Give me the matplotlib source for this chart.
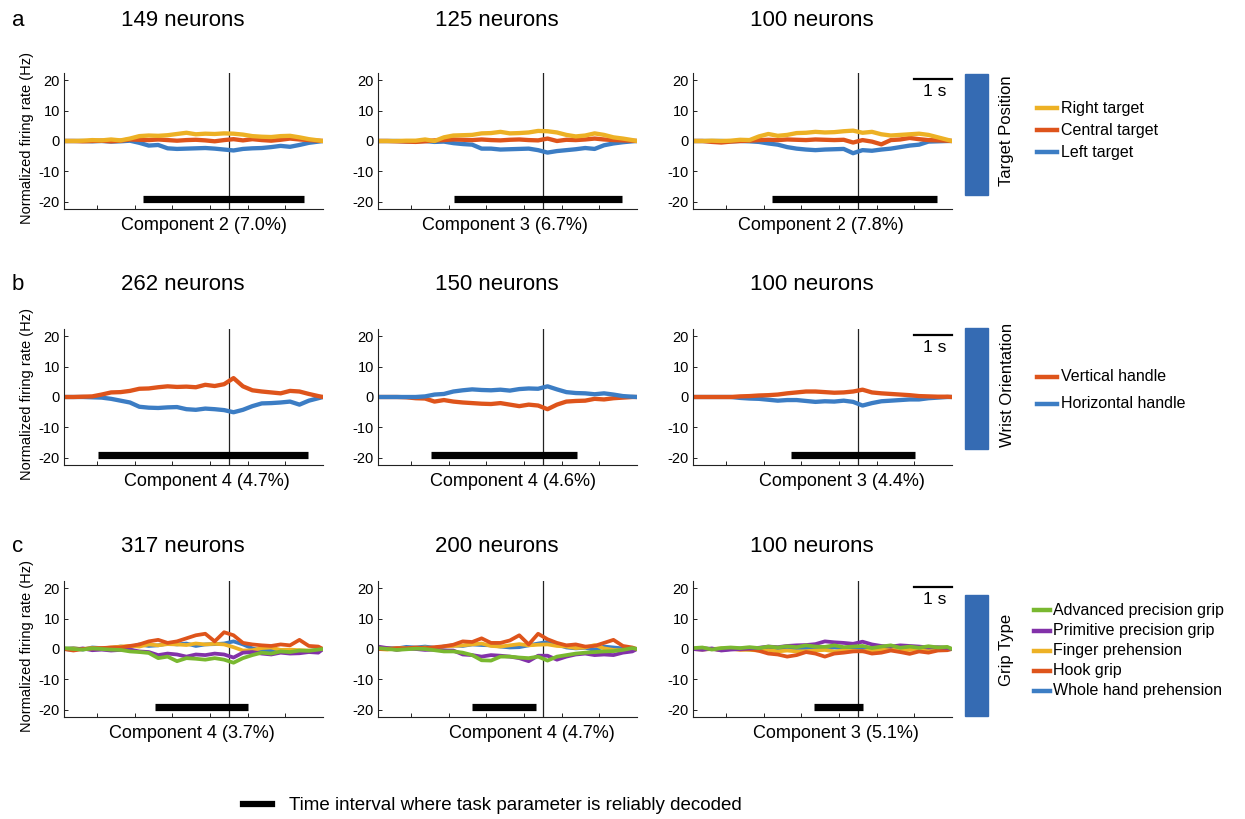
import matplotlib
matplotlib.use("Agg")
import matplotlib.pyplot as plt
from matplotlib.patches import Rectangle
from matplotlib.lines import Line2D

plt.rcParams['font.family'] = ['Liberation Sans', 'DejaVu Sans']
plt.rcParams['axes.unicode_minus'] = False

# time axis (s), shared by all traces
t = [0.125, 0.375, 0.625, 0.875, 1.125, 1.375, 1.625, 1.875, 2.125, 2.375,
     2.625, 2.875, 3.125, 3.375, 3.625, 3.875, 4.125, 4.375, 4.625, 4.875,
     5.125, 5.375, 5.625, 5.875, 6.125, 6.375, 6.625, 6.875, 7.0]

# ---- row a : target position
a1_right = [0, 0, 0.1, 0.3, 0.2, 0.5, 0.2, 0.8, 1.6, 1.8, 1.7, 1.9, 2.3, 2.7, 2.2, 2.4, 2.3, 2.5, 2.4, 2.1, 1.6, 1.4, 1.3, 1.6, 1.7, 1.2, 0.6, 0.2, 0]
a1_central = [0, 0, -0.1, 0, 0.1, -0.1, 0.1, 0.5, 0.4, 0.3, 0.5, 0.3, 0.1, 0.3, 0.4, 0.2, -0.1, 0.3, 0.6, 0.2, 0.6, 0.3, 0.1, 0.4, 0.8, 0.5, 0.3, 0.1, 0]
a1_left = [0, 0, 0, -0.1, 0, -0.2, -0.1, 0.1, -0.6, -1.5, -1.3, -2.4, -2.6, -2.5, -2.4, -2.3, -2.5, -2.8, -3.1, -2.6, -2.4, -2.3, -2.0, -1.6, -1.9, -1.3, -0.6, -0.2, 0]

a2_right = [0, 0, 0, 0.1, 0.1, 0.5, 0, 1.2, 1.8, 1.9, 2.0, 2.5, 2.6, 3.0, 2.5, 2.6, 2.8, 3.3, 3.2, 2.8, 2.0, 1.5, 1.8, 2.5, 2.0, 1.2, 0.8, 0.3, 0]
a2_central = [0, 0, -0.1, -0.2, -0.3, -0.1, 0.2, 0.3, 0.5, 0.4, 0.3, 0.5, 0.3, 0.2, 0.4, 0.5, 0.3, 0.2, 0.8, 0, 0.4, 0.3, 0.5, 0.8, 0.5, 0.3, 0.2, 0.1, 0]
a2_left = [0, 0, 0, -0.1, -0.1, 0, -0.3, -0.2, -0.7, -1.0, -1.2, -2.5, -2.5, -2.8, -2.7, -2.6, -2.5, -3.0, -3.8, -3.3, -3.0, -2.7, -2.3, -2.6, -1.4, -0.8, -0.4, -0.1, 0]

a3_right = [0, 0, 0.1, 0, 0.1, 0.4, 0.3, 1.5, 2.3, 1.7, 2.0, 2.6, 2.7, 3.0, 2.8, 2.9, 3.2, 3.4, 2.7, 3.0, 2.2, 1.8, 2.0, 2.2, 2.4, 2.0, 1.2, 0.4, 0]
a3_central = [0, 0, -0.3, -0.5, -0.2, 0, 0.1, 0.3, 0.4, 0.3, 0.5, 0.4, 0.3, 0.5, 0.4, 0.3, 0.4, -0.5, 0.3, -0.2, -1.1, 0.3, 0.5, 1.0, 0.6, 0.3, 0.2, 0.1, 0]
a3_left = [0, 0, 0, 0, -0.1, 0, -0.1, -0.3, -0.8, -1.2, -2.0, -2.5, -2.8, -3.0, -2.8, -2.7, -2.6, -4.0, -3.0, -3.2, -2.8, -2.5, -2.0, -1.5, -1.2, -0.2, -0.1, 0, 0]

# ---- row b : wrist orientation
b1_vert = [0, 0, 0.1, 0.2, 0.8, 1.5, 1.6, 2.0, 2.7, 2.8, 3.2, 3.5, 3.3, 3.4, 3.2, 4.0, 3.6, 4.2, 6.2, 3.5, 2.2, 1.8, 1.5, 1.2, 2.0, 1.8, 1.0, 0.3, 0]
b1_horiz = [0, 0, 0, -0.1, -0.2, -0.6, -1.2, -1.8, -3.2, -3.5, -3.6, -3.4, -3.3, -4.0, -4.2, -3.8, -4.0, -4.3, -5.0, -4.2, -3.0, -2.1, -2.0, -1.8, -1.5, -2.5, -1.2, -0.4, 0]

b2_vert = [0, 0, 0, -0.1, -0.4, -0.5, -1.5, -1.0, -1.5, -1.8, -2.0, -2.2, -2.3, -2.0, -2.5, -3.0, -2.5, -2.8, -4.0, -2.5, -1.5, -1.3, -1.2, -0.6, -0.8, -0.4, -0.2, 0, 0]
b2_horiz = [0, 0, 0, 0, 0, 0.2, 0.8, 1.0, 1.8, 2.2, 2.5, 2.3, 2.2, 2.4, 2.1, 2.6, 2.8, 2.7, 3.5, 2.5, 1.6, 1.3, 1.2, 0.9, 1.2, 0.8, 0.3, 0.1, 0]

b3_vert = [0, 0, 0, 0, 0, 0.2, 0.3, 0.5, 0.6, 0.8, 1.2, 1.5, 1.8, 1.8, 1.6, 1.4, 1.5, 1.8, 2.4, 1.5, 1.2, 1.0, 0.8, 0.6, 0.3, 0.2, 0.1, 0.1, 0]
b3_horiz = [0, 0, 0, 0, 0, -0.3, -0.5, -0.6, -0.9, -1.2, -1.0, -1.0, -1.3, -1.6, -1.4, -1.5, -1.2, -1.6, -2.8, -2.0, -1.4, -1.2, -1.0, -0.8, -0.8, -0.4, -0.2, 0, 0]

# ---- row c : grip type
c1_adv = [0.3, 0, -0.2, 0.2, 0, -0.2, -0.3, -0.8, -1.0, -1.3, -3.0, -2.5, -4.0, -3.0, -3.2, -3.5, -3.0, -3.5, -4.5, -3.0, -2.0, -1.2, -1.5, -0.8, -1.0, -0.5, -0.6, -0.2, 0]
c1_prim = [0, -0.3, 0.2, -0.4, -0.2, -0.5, -0.3, -0.2, -0.8, -1.0, -2.0, -1.5, -1.8, -2.5, -1.8, -2.0, -1.5, -1.8, -2.8, -1.2, -1.0, -1.5, -1.8, -1.2, -1.5, -1.4, -1.0, -1.2, 0]
c1_finger = [0, 0.2, 0, 0.3, 0.2, 0.5, 0.8, 1.0, 0.8, 1.5, 1.2, 1.6, 1.5, 1.3, 1.8, 1.5, 1.7, 1.5, 0.6, -0.5, -0.4, 0.3, 0.5, -0.3, -0.2, -0.4, -0.5, -0.7, 0]
c1_hook = [0, -0.5, 0, 0.2, 0.3, 0.5, 0.5, 1.0, 1.5, 2.5, 3.0, 2.0, 2.5, 3.5, 4.5, 5.0, 2.5, 5.5, 4.5, 2.0, 1.5, 1.2, 1.0, 1.5, 1.2, 3.0, 1.0, 0.8, 0]
c1_whole = [0, 0.3, -0.2, 0.5, 0.3, 0.3, 0.8, 0.5, 1.5, 1.0, 1.2, 1.8, 1.5, 1.8, 1.0, 1.5, 1.6, 1.8, 2.5, 1.5, 0.2, -0.5, -0.5, -1.0, -0.8, -1.0, -0.6, -0.3, 0]

c2_adv = [0.3, 0, -0.3, -0.1, 0.1, 0, -0.4, -0.8, -0.8, -1.2, -2.0, -3.7, -3.8, -2.5, -2.5, -2.8, -3.0, -2.5, -3.8, -2.5, -2.0, -1.5, -1.2, -1.0, -0.8, -0.7, -0.3, 0.3, 0]
c2_prim = [0.8, 0.3, -0.3, 0.2, 0, -0.3, -0.2, -0.5, -0.5, -1.8, -2.0, -2.5, -2.0, -2.2, -2.5, -3.0, -4.0, -2.2, -2.2, -3.5, -2.5, -1.8, -1.5, -2.0, -1.8, -2.0, -1.2, -0.8, 0]
c2_finger = [0, -0.2, 0.2, 0.3, 0.2, 0.5, 0.2, 0.8, 1.0, 1.2, 1.5, 1.8, 1.0, 0.8, 1.2, 1.6, 1.2, 1.4, 1.5, 1.0, 0.8, 0.3, 0.5, 1.3, 0.2, -0.3, -0.5, -0.3, 0]
c2_hook = [0, 0.1, 0.3, 0.2, 0.5, 0.3, 0.6, 0.9, 1.4, 2.5, 2.3, 3.5, 2.0, 2.0, 2.8, 4.5, 1.5, 5.0, 3.2, 2.0, 1.2, 1.5, 0.8, 1.0, 2.0, 3.0, 1.0, 0.5, 0]
c2_whole = [0, 0.3, 0.2, 0.7, 0.5, 0.8, 0.4, 0.8, 1.2, 1.0, 1.5, 1.3, 1.2, 0.8, 0.5, 0.6, 1.2, 1.8, 2.3, 1.5, 0.5, 0.2, 0.4, -0.3, 0.8, 0.5, 0.2, -0.2, 0]

c3_adv = [0.3, 0.5, -0.2, 0.3, 0.5, 0.3, 0.6, 0.3, 0.8, 0.5, 0.9, 0.6, 1.2, 0.8, 0.7, 1.2, 0.6, 0.8, 1.0, 0.3, 0.8, 1.2, 0.4, 0.8, 0.4, 0.9, 0.5, 0.7, 0]
c3_prim = [0, -0.3, 0.2, -0.5, -0.2, 0, 0.2, 0.4, 0.8, 0.6, 1.0, 1.2, 1.3, 1.6, 2.5, 2.2, 2.0, 1.7, 2.4, 1.5, 1.0, 0.8, 1.2, 1.0, 0.8, 0.5, 0.6, 0.4, 0]
c3_finger = [0, -0.2, 0, 0.2, 0, -0.2, -0.3, -0.5, -0.3, -0.8, -0.5, -0.8, -0.7, -0.5, -0.3, -0.8, -0.5, -0.6, -0.8, -0.4, -0.3, -0.2, -0.5, -0.3, 0, -0.2, 0.1, 0, 0]
c3_hook = [0, 0.2, 0, -0.3, 0.1, -0.2, 0, -0.6, -1.5, -1.8, -2.5, -2.0, -1.0, -1.5, -2.5, -1.5, -1.2, -0.8, -0.7, -1.5, -1.2, -0.5, -1.0, -1.6, -0.8, -1.2, -0.5, -0.4, 0]
c3_whole = [0, 0.3, 0, -0.3, 0, 0.2, -0.2, -0.3, 0, 0.2, 0.3, 0.1, 0.3, 0.4, 0.2, 0.5, 0.3, 0.4, 0.2, 0.5, 0.3, 0.2, 0.4, 0.1, 0.3, 0.2, 0.1, 0, 0]

# decoding intervals (s) per panel, row by row
decoded = [[(2.22, 6.49), (2.13, 6.60), (2.23, 6.60)],
           [(1.02, 6.61), (1.53, 5.42), (2.72, 6.03)],
           [(2.54, 5.02), (2.63, 4.32), (3.33, 4.63)]]

neurons = [["149 neurons", "125 neurons", "100 neurons"],
           ["262 neurons", "150 neurons", "100 neurons"],
           ["317 neurons", "200 neurons", "100 neurons"]]
components = [["Component 2 (7.0%)", "Component 3 (6.7%)", "Component 2 (7.8%)"],
              ["Component 4 (4.7%)", "Component 4 (4.6%)", "Component 3 (4.4%)"],
              ["Component 4 (3.7%)", "Component 4 (4.7%)", "Component 3 (5.1%)"]]
row_letters = ["a", "b", "c"]
row_names = ["Target Position", "Wrist Orientation", "Grip Type"]

YEL = '#EDB125'
ORA = '#DE541B'
BLU = '#3C7DC4'
PUR = '#8231A9'
GRN = '#79B830'
BAR_BLUE = '#356BB3'

a_labels = ["Right target", "Central target", "Left target"]
a_colors = [YEL, ORA, BLU]
b_labels = ["Vertical handle", "Horizontal handle"]
b_colors = [ORA, BLU]
c_labels = ["Advanced precision grip", "Primitive precision grip",
            "Finger prehension", "Hook grip", "Whole hand prehension"]
c_colors = [GRN, PUR, YEL, ORA, BLU]

# series per panel, drawn in the listed order
panels = [
    [[(a1_left, BLU), (a1_central, ORA), (a1_right, YEL)],
     [(a2_left, BLU), (a2_central, ORA), (a2_right, YEL)],
     [(a3_left, BLU), (a3_central, ORA), (a3_right, YEL)]],
    [[(b1_horiz, BLU), (b1_vert, ORA)],
     [(b2_vert, ORA), (b2_horiz, BLU)],
     [(b3_horiz, BLU), (b3_vert, ORA)]],
    [[(c1_whole, BLU), (c1_finger, YEL), (c1_prim, PUR), (c1_hook, ORA), (c1_adv, GRN)],
     [(c2_whole, BLU), (c2_finger, YEL), (c2_prim, PUR), (c2_hook, ORA), (c2_adv, GRN)],
     [(c3_whole, BLU), (c3_finger, YEL), (c3_hook, ORA), (c3_prim, PUR), (c3_adv, GRN)]],
]

W, H = 1245, 819
fig = plt.figure(figsize=(W / 100, H / 100), dpi=100)

def fx(x):
    return x / W

def fy(y):
    return 1 - y / H

col_left = [64, 378, 693]
row_top = [73, 329, 581]
ax_w, ax_h = 259, 136
title_x = [183, 497, 812]
title_y = [20, 285, 547]
xlab_x = [[204, 505, 821], [207, 513, 842], [192, 532, 836]]
lw_rows = [3.1, 3.1, 2.7]

for r in range(3):
    for c in range(3):
        ax = fig.add_axes([fx(col_left[c]), fy(row_top[r] + ax_h), fx(ax_w), ax_h / H])
        ax.axvline(4.5, color='#222222', lw=0.9, zorder=1)
        for ys, col in panels[r][c]:
            ax.plot(t, ys, color=col, lw=lw_rows[r], solid_capstyle='round', zorder=2)
        x0, x1 = decoded[r][c]
        ax.plot([x0, x1], [-19, -19], color='black', lw=5.2, solid_capstyle='butt', zorder=3)
        ax.set_xlim(0.125, 7.0)
        ax.set_ylim(-22.3, 22.3)
        ax.set_xticks([1, 2, 3, 4, 5, 6])
        ax.set_xticklabels([])
        ax.set_yticks([-20, -10, 0, 10, 20])
        ax.tick_params(direction='in', length=3, width=0.7, labelsize=10.5, pad=3, colors='#222222')
        ax.tick_params(axis='y', labelcolor='black')
        for s in ['top', 'right']:
            ax.spines[s].set_visible(False)
        for s in ['left', 'bottom']:
            ax.spines[s].set_linewidth(0.8)
            ax.spines[s].set_color('#222222')
        if c == 2:
            ax.plot([6.0, 7.0], [20.2, 20.2], color='black', lw=1.6, clip_on=False)
            ax.text(6.55, 16.2, "1 s", ha='center', va='center', fontsize=12.5, clip_on=False)
        fig.text(fx(xlab_x[r][c]), fy(row_top[r] + ax_h + 17), components[r][c],
                 ha='center', va='center', fontsize=13)
        fig.text(fx(title_x[c]), fy(title_y[r]), neurons[r][c],
                 ha='center', va='center', fontsize=16)
    fig.text(fx(18), fy(title_y[r]), row_letters[r], ha='center', va='center', fontsize=16)
    fig.text(fx(27), fy(row_top[r] + ax_h / 2 - 3), "Normalized firing rate (Hz)",
             rotation=90, ha='center', va='center', fontsize=10.5)

# coloured side bars with task parameter names
side_spans = [(74, 195), (328, 449), (595, 716)]
side_name_y = [131, 385, 650]
for r in range(3):
    y0, y1 = side_spans[r]
    fig.patches.append(Rectangle((fx(965), fy(y1)), fx(23), (y1 - y0) / H,
                                 transform=fig.transFigure, color=BAR_BLUE))
    fig.text(fx(1007), fy(side_name_y[r]), row_names[r], rotation=90,
             ha='center', va='center', fontsize=12)

def legend_rows(labels, colors, ys, x0, x1, xt):
    for lab, col, y in zip(labels, colors, ys):
        fig.lines.append(Line2D([fx(x0), fx(x1)], [fy(y), fy(y)], color=col, lw=3.2,
                                transform=fig.transFigure))
        fig.text(fx(xt), fy(y), lab, ha='left', va='center', fontsize=11.5)

legend_rows(a_labels, a_colors, [108, 130, 152], 1037, 1057, 1061)
legend_rows(b_labels, b_colors, [377, 404], 1037, 1057, 1061)
legend_rows(c_labels, c_colors, [610, 630.5, 650.5, 670.5, 691], 1034, 1050, 1053)

# bottom key
fig.lines.append(Line2D([fx(243), fx(272)], [fy(804), fy(804)], color='black', lw=4.5,
                        transform=fig.transFigure))
fig.text(fx(289), fy(805), "Time interval where task parameter is reliably decoded",
         ha='left', va='center', fontsize=13.5)

fig.savefig("out.png", dpi=100)
